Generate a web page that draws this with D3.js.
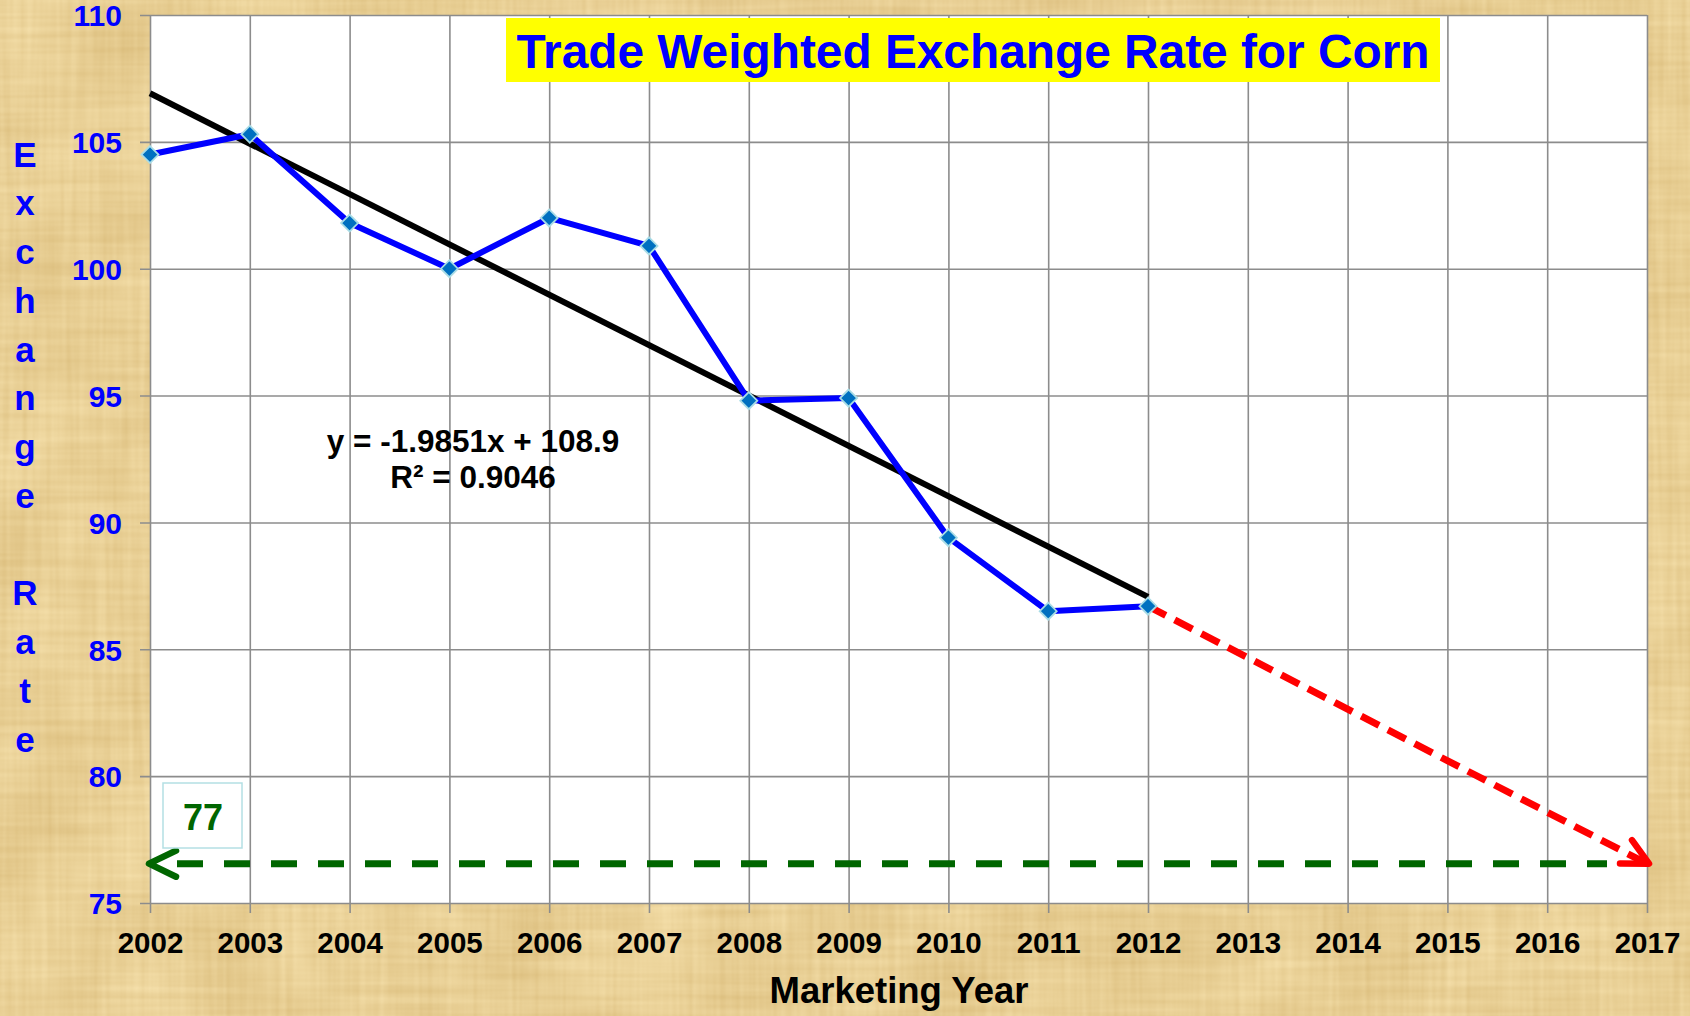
<!DOCTYPE html>
<html>
<head>
<meta charset="utf-8">
<script src="https://cdn.jsdelivr.net/npm/d3@7"></script>
<style>
  html, body { margin: 0; padding: 0; background: #e8d096; }
  svg { display: block; font-family: Arial, "Liberation Sans", sans-serif; }
</style>
</head>
<body>
<div id="chart"></div>
<script>
// Dữ liệu
const years = [2002, 2003, 2004, 2005, 2006, 2007, 2008, 2009, 2010, 2011, 2012];
const rates = [104.5, 105.3, 101.8, 100.0, 102.0, 100.9, 94.8, 94.9, 89.4, 86.5, 86.7];
const trendSlope = -1.9851;
const trendIntercept = 108.9;
const trendYears = [2002, 2012];
const projYears = [2012, 2017];
const projValues = [86.7, 76.55];
const targetLevel = 76.55;
const targetLabel = "77";
const xTicks = d3.range(2002, 2018);
const yTicks = [75, 80, 85, 90, 95, 100, 105, 110];
const titleText = "Trade Weighted Exchange Rate for Corn";
const yTitle = "Exchange Rate";
const xTitle = "Marketing Year";
const eqLines = ["y = -1.9851x + 108.9", "R² = 0.9046"];

const width = 1690, height = 1016;
const margin = { top: 15, right: 43, bottom: 113, left: 150 };

const svg = d3.select("#chart").append("svg")
  .attr("width", width).attr("height", height);

// Nền giấy cói
const defs = svg.append("defs");
const f = defs.append("filter").attr("id", "paper")
  .attr("x", 0).attr("y", 0).attr("width", width).attr("height", height)
  .attr("filterUnits", "userSpaceOnUse")
  .attr("color-interpolation-filters", "sRGB");
const gray = "1 0 0 0 0  1 0 0 0 0  1 0 0 0 0  0 0 0 0 1";
f.append("feTurbulence").attr("type", "fractalNoise").attr("baseFrequency", "0.15 0.006").attr("numOctaves", 2).attr("seed", 3).attr("result", "v0");
f.append("feColorMatrix").attr("in", "v0").attr("type", "matrix").attr("values", gray).attr("result", "v");
f.append("feTurbulence").attr("type", "fractalNoise").attr("baseFrequency", "0.006 0.15").attr("numOctaves", 2).attr("seed", 8).attr("result", "h0");
f.append("feColorMatrix").attr("in", "h0").attr("type", "matrix").attr("values", gray).attr("result", "h");
f.append("feTurbulence").attr("type", "fractalNoise").attr("baseFrequency", "0.01").attr("numOctaves", 3).attr("seed", 11).attr("result", "b0");
f.append("feColorMatrix").attr("in", "b0").attr("type", "matrix").attr("values", gray).attr("result", "b");
f.append("feComposite").attr("in", "v").attr("in2", "h").attr("operator", "arithmetic").attr("k2", 0.5).attr("k3", 0.5).attr("result", "vh");
f.append("feComposite").attr("in", "vh").attr("in2", "b").attr("operator", "arithmetic").attr("k2", 0.6).attr("k3", 0.4).attr("result", "n");
f.append("feColorMatrix").attr("in", "n").attr("type", "matrix")
  .attr("values", "0.18 0 0 0 0.82  0.24 0 0 0 0.69  0.32 0 0 0 0.42  0 0 0 0 1");

svg.append("rect").attr("width", width).attr("height", height).attr("filter", "url(#paper)");

const x = d3.scaleLinear().domain([2002, 2017]).range([margin.left, width - margin.right]);
const y = d3.scaleLinear().domain([75, 110]).range([height - margin.bottom, margin.top]);
const plotW = x.range()[1] - x.range()[0];
const plotH = y.range()[0] - y.range()[1];

// Vùng vẽ
svg.append("rect")
  .attr("x", x(2002)).attr("y", y(110))
  .attr("width", plotW).attr("height", plotH)
  .attr("fill", "#fff");

// Trục Y
const yAxis = svg.append("g")
  .attr("transform", `translate(${x(2002)},0)`)
  .call(d3.axisLeft(y).tickValues(yTicks).tickSize(-plotW).tickSizeOuter(0));
yAxis.select(".domain").remove();
yAxis.selectAll("line").attr("x1", -10).attr("stroke", "#8c8c8c").attr("stroke-width", 1.6);
yAxis.selectAll("text")
  .attr("x", -28).attr("dy", "0.36em")
  .attr("fill", "#0000ff").attr("font-size", "30px").attr("font-weight", "bold")
  .attr("font-family", "Arial, 'Liberation Sans', sans-serif");

// Trục X
const xAxis = svg.append("g")
  .attr("transform", `translate(0,${y(75)})`)
  .call(d3.axisBottom(x).tickValues(xTicks).tickFormat(d3.format("d")).tickSize(-plotH).tickSizeOuter(0));
xAxis.select(".domain").remove();
xAxis.selectAll("line").attr("y1", 10).attr("stroke", "#8c8c8c").attr("stroke-width", 1.6);
xAxis.selectAll("text")
  .attr("y", 29).attr("dy", "0.71em")
  .attr("fill", "#000").attr("font-size", "29.5px").attr("font-weight", "bold")
  .attr("font-family", "Arial, 'Liberation Sans', sans-serif");

// Tiêu đề
const titleBox = { x0: 506, x1: 1440, y0: 18, y1: 82 };
svg.append("rect")
  .attr("x", titleBox.x0).attr("y", titleBox.y0)
  .attr("width", titleBox.x1 - titleBox.x0).attr("height", titleBox.y1 - titleBox.y0)
  .attr("fill", "#ffff00");
svg.append("text")
  .attr("x", (titleBox.x0 + titleBox.x1) / 2).attr("y", 68)
  .attr("text-anchor", "middle")
  .attr("font-size", "48px").attr("font-weight", "bold").attr("fill", "#0000ff")
  .attr("textLength", 913).attr("lengthAdjust", "spacingAndGlyphs")
  .text(titleText);

// Nhãn trục Y theo chiều dọc
const yLab = svg.append("text")
  .attr("text-anchor", "middle")
  .attr("font-size", "35px").attr("font-weight", "bold").attr("fill", "#0000ff");
yTitle.split("").forEach((ch, i) => {
  if (ch === " ") return;
  yLab.append("tspan").attr("x", 25).attr("y", 166.7 + i * 48.75).text(ch);
});

// Nhãn trục X
svg.append("text")
  .attr("x", 899).attr("y", 1003)
  .attr("text-anchor", "middle")
  .attr("font-size", "36.5px").attr("font-weight", "bold").attr("fill", "#000")
  .text(xTitle);

// Đường xu hướng
const trendFn = yr => trendSlope * (yr - 2001) + trendIntercept;
svg.append("path")
  .datum(trendYears)
  .attr("d", d3.line().x(d => x(d)).y(d => y(trendFn(d))))
  .attr("stroke", "#000").attr("stroke-width", 6).attr("fill", "none");

// Dự báo (đỏ, nét đứt)
const proj = projYears.map((yr, i) => ({ yr, v: projValues[i] }));
svg.append("path")
  .datum(proj)
  .attr("d", d3.line().x(d => x(d.yr)).y(d => y(d.v)))
  .attr("stroke", "#ff0000").attr("stroke-width", 7).attr("fill", "none")
  .attr("stroke-dasharray", "20,10");

function arrowHead(tipX, tipY, fromX, fromY, len, spread, color, w) {
  const ang = Math.atan2(fromY - tipY, fromX - tipX);
  const p1 = [tipX + len * Math.cos(ang + spread), tipY + len * Math.sin(ang + spread)];
  const p2 = [tipX + len * Math.cos(ang - spread), tipY + len * Math.sin(ang - spread)];
  svg.append("path")
    .attr("d", `M${p1[0]},${p1[1]}L${tipX},${tipY}L${p2[0]},${p2[1]}`)
    .attr("stroke", color).attr("stroke-width", w).attr("fill", "none")
    .attr("stroke-linecap", "round").attr("stroke-linejoin", "round");
}
const tx = x(projYears[1]) + 2, ty = y(projValues[1]);
arrowHead(tx, ty, x(projYears[0]), y(projValues[0]), 29, 0.47, "#ff0000", 6.5);

// Mức mục tiêu (xanh lá, nét đứt)
svg.append("line")
  .attr("x1", x(2002) + 27).attr("x2", x(2017) - 40)
  .attr("y1", y(targetLevel)).attr("y2", y(targetLevel))
  .attr("stroke", "#006600").attr("stroke-width", 7)
  .attr("stroke-dasharray", "26,21");
arrowHead(x(2002) - 1, y(targetLevel), x(2002) + 50, y(targetLevel), 30, 0.45, "#006600", 6.5);

// Hộp nhãn 77
svg.append("rect")
  .attr("x", 163).attr("y", 783).attr("width", 79).attr("height", 65)
  .attr("fill", "#fff").attr("stroke", "#b4dfe4").attr("stroke-width", 1.5);
svg.append("text")
  .attr("x", 203).attr("y", 830)
  .attr("text-anchor", "middle")
  .attr("font-size", "36px").attr("font-weight", "bold").attr("fill", "#006600")
  .text(targetLabel);

// Đường dữ liệu
const series = years.map((yr, i) => ({ yr, v: rates[i] }));
svg.append("path")
  .datum(series)
  .attr("d", d3.line().x(d => x(d.yr)).y(d => y(d.v)))
  .attr("stroke", "#0000ff").attr("stroke-width", 6).attr("fill", "none")
  .attr("stroke-linejoin", "round");

svg.selectAll(".pt")
  .data(series)
  .enter().append("path")
  .attr("class", "pt")
  .attr("d", d3.symbol().type(d3.symbolDiamond2).size(185))
  .attr("transform", d => `translate(${x(d.yr)},${y(d.v)})`)
  .attr("fill", "#0070c0").attr("stroke", "#a8dce6").attr("stroke-width", 1.8);

// Phương trình hồi quy
const eq = svg.append("text")
  .attr("text-anchor", "middle")
  .attr("font-size", "31.5px").attr("font-weight", "bold").attr("fill", "#000");
eqLines.forEach((t, i) => {
  eq.append("tspan").attr("x", 473).attr("y", 451.7 + i * 36.6).text(t);
});
</script>
</body>
</html>
